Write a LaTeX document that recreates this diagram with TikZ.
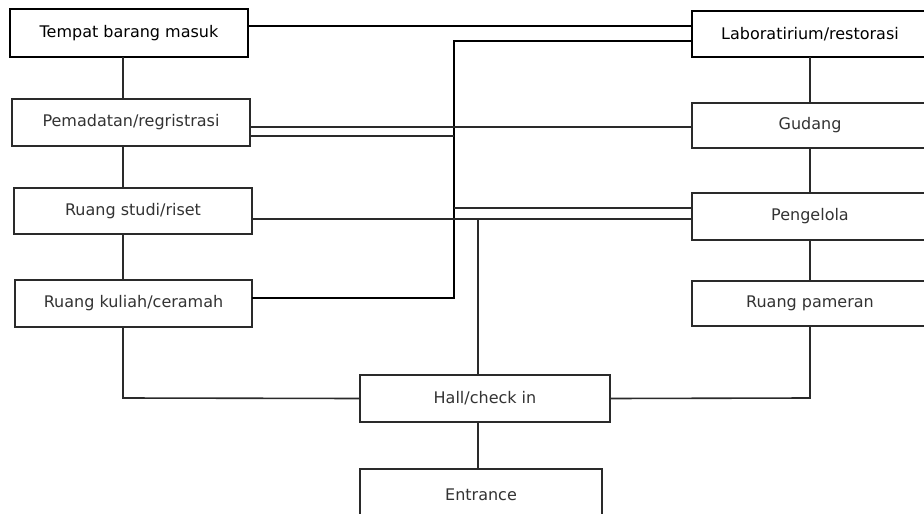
\documentclass[tikz,border=0pt]{standalone}
\usepackage{fontspec}
\setmainfont{DejaVu Sans}
\definecolor{ink}{HTML}{2A2A2A}
\definecolor{txt}{HTML}{333333}
\begin{document}
\begin{tikzpicture}[x=1pt,y=-1pt,
  box/.style={draw=ink,line width=1.6pt,rectangle,inner sep=0pt,outer sep=0pt,
    font=\fontsize{16}{19}\selectfont,text=txt},
  heavybox/.style={box,draw=black,line width=2.1pt,text=black},
  link/.style={draw=ink,line width=1.6pt},
  heavylink/.style={draw=black,line width=1.9pt}]
\useasboundingbox (0,0) rectangle (924,514);
\clip (0,0) rectangle (924,514);
\fill[white] (0,0) rectangle (924,514);
% left column
\node[heavybox,minimum width=238pt,minimum height=48pt] (tempat) at (129,33) {Tempat barang masuk};
\node[box,minimum width=238pt,minimum height=47pt] (pemadatan) at (131,122.5) {Pemadatan/regristrasi};
\node[box,minimum width=238pt,minimum height=46pt] (studi) at (133,211) {Ruang studi/riset};
\node[box,minimum width=237pt,minimum height=47pt] (kuliah) at (133.5,303.5) {Ruang kuliah/ceramah};
% right column
\node[heavybox,minimum width=236pt,minimum height=46pt] (lab) at (810,34) {Laboratirium/restorasi};
\node[box,minimum width=236pt,minimum height=45pt] (gudang) at (810,125.5) {Gudang};
\node[box,minimum width=236pt,minimum height=47pt] (pengelola) at (810,216.5) {Pengelola};
\node[box,minimum width=236pt,minimum height=45pt] (pameran) at (810,303.5) {Ruang pameran};
% centre
\node[box,minimum width=250pt,minimum height=47pt] (hall) at (485,398.5) {Hall/check in};
\node[box,minimum width=242pt,minimum height=62pt,text depth=0pt] (entrance) at (481,500) {\raisebox{11pt}{Entrance}};
% junction coordinates
\coordinate (ja) at (454,41);
\coordinate (jb) at (454,298);
\coordinate (jc) at (478,219);
\coordinate (jl) at (123,398);
\coordinate (jr) at (810,398);
% top connections
\draw[heavylink] (tempat.east |- 0,26) -- (lab.west |- 0,26);
\draw[heavylink] (lab.west |- 0,41) -- (ja) -- (jb) -- (kuliah.east |- 0,298);
\draw[link] (pemadatan.east |- 0,136) -- (ja |- 0,136);
\draw[link] (ja |- 0,208) -- (pengelola.west |- 0,208);
\draw[link] (pemadatan.east |- 0,127) -- (gudang.west |- 0,127);
\draw[link] (studi.east |- 0,219) -- (pengelola.west |- 0,219);
\draw[link] (jc) -- (hall.north -| jc);
% left spine
\draw[link] (tempat.south -| jl) -- (pemadatan.north -| jl);
\draw[link] (pemadatan.south -| jl) -- (studi.north -| jl);
\draw[link] (studi.south -| jl) -- (kuliah.north -| jl);
\draw[link] (kuliah.south -| jl) -- (jl) -- (hall.west);
% right spine
\draw[link] (lab.south) -- (gudang.north);
\draw[link] (gudang.south) -- (pengelola.north);
\draw[link] (pengelola.south) -- (pameran.north);
\draw[link] (pameran.south) -- (jr) -- (hall.east);
% entrance
\draw[link] (hall.south -| jc) -- (entrance.north -| jc);
\end{tikzpicture}
\end{document}
